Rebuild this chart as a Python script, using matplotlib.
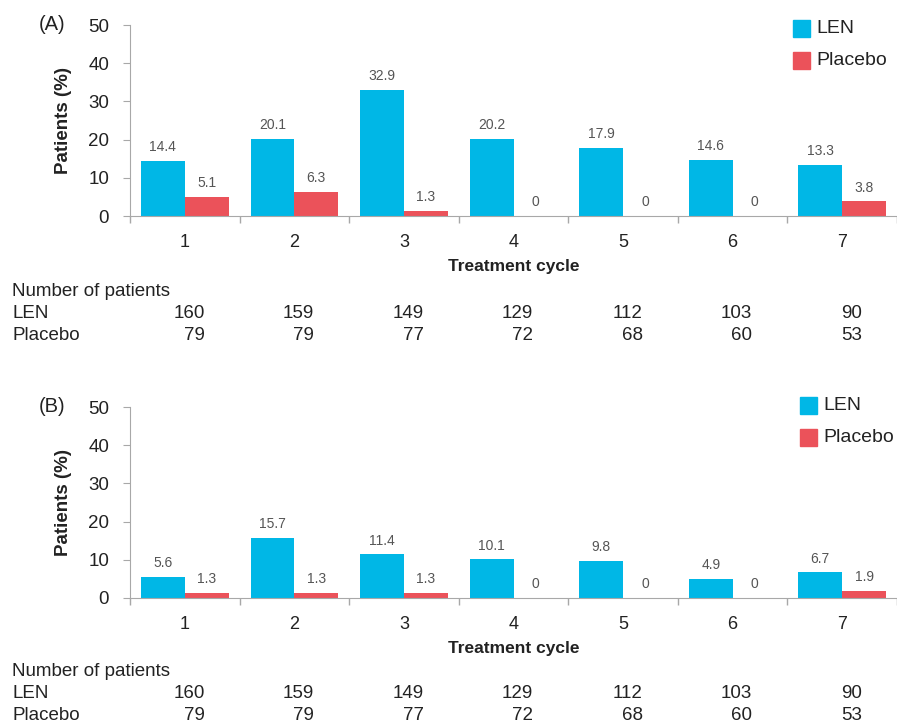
import matplotlib
matplotlib.use("Agg")
import matplotlib.pyplot as plt
import numpy as np
from matplotlib.transforms import blended_transform_factory
from matplotlib.patches import Rectangle

plt.rcParams['font.family'] = ['Liberation Sans', 'DejaVu Sans']

cycles = [1, 2, 3, 4, 5, 6, 7]
len_a = [14.4, 20.1, 32.9, 20.2, 17.9, 14.6, 13.3]
pla_a = [5.1, 6.3, 1.3, 0, 0, 0, 3.8]
len_b = [5.6, 15.7, 11.4, 10.1, 9.8, 4.9, 6.7]
pla_b = [1.3, 1.3, 1.3, 0, 0, 0, 1.9]
n_len = [160, 159, 149, 129, 112, 103, 90]
n_pla = [79, 79, 77, 72, 68, 60, 53]
yticks = [0, 10, 20, 30, 40, 50]

C_LEN = '#00B7E6'
C_PLA = '#EB525A'
GRAY = '#A8A8A8'
TXT = '#222222'
LBL = '#555555'

W, H = 897, 723
fig = plt.figure(figsize=(W / 100, H / 100), dpi=100)


def fx(px):
    return px / W


def fy(py):
    return 1 - py / H


def panel(top, bottom, lv, pv, tag, leg_x, leg_y, tab_y):
    ax = fig.add_axes([fx(130), fy(bottom), fx(897) - fx(130), fy(top) - fy(bottom)])
    x = np.array(cycles)
    w = 0.4
    ax.bar(x - w / 2, lv, width=w, color=C_LEN, zorder=2)
    ax.bar(x + w / 2, pv, width=w, color=C_PLA, zorder=2)
    for xi, v in zip(x, lv):
        ax.text(xi - w / 2, v + 1.8, f"{v:g}", ha='center', va='bottom', fontsize=10, color=LBL)
    for xi, v in zip(x, pv):
        ax.text(xi + w / 2, v + 1.8, f"{v:g}", ha='center', va='bottom', fontsize=10, color=LBL)
    ax.set_xlim(0.5, 0.5 + 767 / 110.5)
    ax.set_ylim(0, 50)
    ax.set_yticks(yticks)
    ax.set_xticks(cycles)
    ax.set_xticks(np.arange(0.5, 7.6, 1), minor=True)
    ax.tick_params(axis='x', which='major', length=0, pad=13, labelsize=13, colors=TXT)
    ax.tick_params(axis='x', which='minor', length=5, color=GRAY, width=1)
    ax.tick_params(axis='y', length=5, color=GRAY, labelsize=13.5, labelcolor=TXT, pad=10)
    for s in ['top', 'right']:
        ax.spines[s].set_visible(False)
    ax.spines['left'].set_color(GRAY)
    ax.spines['bottom'].set_color(GRAY)
    ax.set_ylabel('Patients (%)', fontsize=13.5, fontweight='bold', color=TXT, labelpad=12)
    ax.set_xlabel('Treatment cycle', fontsize=12.5, fontweight='bold', color=TXT, labelpad=6)
    fig.text(fx(39), fy(top), tag, fontsize=14.5, color=TXT, ha='left', va='center')

    # legend
    sq = 17
    for i, (lab, c) in enumerate([('LEN', C_LEN), ('Placebo', C_PLA)]):
        yy = leg_y + i * 32
        fig.patches.append(Rectangle((fx(leg_x), fy(yy + sq)), fx(sq), fy(0) - fy(sq),
                                     transform=fig.transFigure, color=c))
        fig.text(fx(leg_x + sq + 6), fy(yy + sq / 2), lab, fontsize=14, color=TXT,
                 ha='left', va='center')

    # table
    tr = blended_transform_factory(ax.transData, fig.transFigure)
    tfam = ['Liberation Sans Narrow', 'Liberation Sans', 'DejaVu Sans']
    fs = 13.5
    fig.text(fx(12), fy(tab_y), 'Number of patients', fontsize=fs, color=TXT,
             ha='left', va='center', family=tfam)
    fig.text(fx(12), fy(tab_y + 21), 'LEN', fontsize=fs, color=TXT,
             ha='left', va='center', family=tfam)
    fig.text(fx(12), fy(tab_y + 43), 'Placebo', fontsize=fs, color=TXT,
             ha='left', va='center', family=tfam)
    for xi, a, b in zip(cycles, n_len, n_pla):
        ax.text(xi + 0.18, fy(tab_y + 21), str(a), transform=tr, fontsize=fs, color=TXT,
                ha='right', va='center', family=tfam)
        ax.text(xi + 0.18, fy(tab_y + 43), str(b), transform=tr, fontsize=fs, color=TXT,
                ha='right', va='center', family=tfam)
    return ax


panel(25, 216, len_a, pla_a, '(A)', 793, 20, 292)
panel(407, 598, len_b, pla_b, '(B)', 800, 397, 672)

fig.savefig('out.png', dpi=100)
